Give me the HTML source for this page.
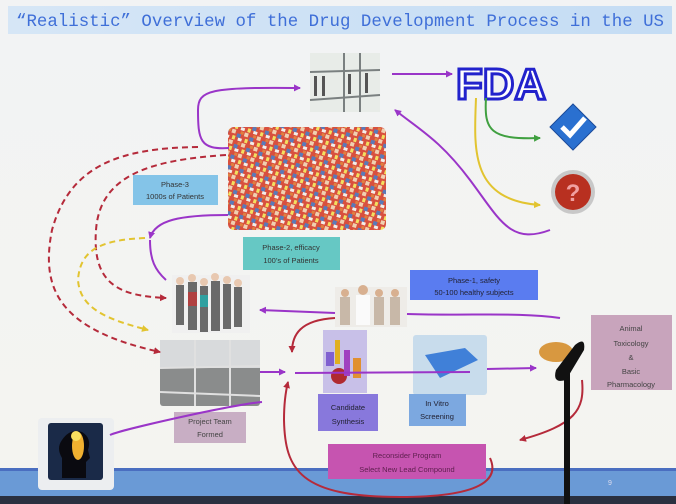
<!DOCTYPE html>
<html><head><meta charset="utf-8"><style>
html,body{margin:0;padding:0;width:676px;height:504px;overflow:hidden;background:#f3f3f1;}
svg{display:block}
.s{font-family:"Liberation Sans",sans-serif;}
.m{font-family:"Liberation Mono",monospace;}
</style></head><body>
<svg width="676" height="504" viewBox="0 0 676 504" xmlns="http://www.w3.org/2000/svg">
<defs>
<linearGradient id="bg" x1="0" y1="0" x2="0" y2="1"><stop offset="0" stop-color="#f2f3f4"/><stop offset="1" stop-color="#f4f4f0"/></linearGradient>
<linearGradient id="tb" x1="0" y1="0" x2="1" y2="0"><stop offset="0" stop-color="#d6e6f6"/><stop offset="1" stop-color="#c4dcf4"/></linearGradient>
<marker id="ap" markerWidth="8" markerHeight="8" refX="6" refY="4" orient="auto" markerUnits="userSpaceOnUse"><path d="M0,0.5 L7,4 L0,7.5z" fill="#9a35c8"/></marker>
<marker id="ar" markerWidth="8" markerHeight="8" refX="6" refY="4" orient="auto" markerUnits="userSpaceOnUse"><path d="M0,0.5 L7,4 L0,7.5z" fill="#b52a3a"/></marker>
<marker id="ay" markerWidth="8" markerHeight="8" refX="6" refY="4" orient="auto" markerUnits="userSpaceOnUse"><path d="M0,0.5 L7,4 L0,7.5z" fill="#e2c430"/></marker>
<marker id="ag" markerWidth="8" markerHeight="8" refX="6" refY="4" orient="auto" markerUnits="userSpaceOnUse"><path d="M0,0.5 L7,4 L0,7.5z" fill="#40a040"/></marker>
<pattern id="crowd" width="13" height="11" patternUnits="userSpaceOnUse" patternTransform="rotate(17)">
<rect width="13" height="11" fill="#d8503e"/><rect x="0" y="0" width="4" height="4" fill="#f0d0b0"/><rect x="6" y="3" width="4" height="4" fill="#5a7ab8"/><rect x="2" y="6" width="3" height="4" fill="#f2e060"/><rect x="8" y="7" width="4" height="3" fill="#f4eee8"/><rect x="9" y="0" width="3" height="3" fill="#e08040"/></pattern>
</defs>
<rect width="676" height="504" fill="url(#bg)"/>
<rect x="0" y="468" width="676" height="30" fill="#6a9ad6"/>
<rect x="0" y="468" width="676" height="3" fill="#4a6ec0"/>
<rect x="0" y="496" width="676" height="8" fill="#2a3040"/>
<text class="s" x="608" y="485" font-size="7" fill="#dde">9</text>
<rect x="8" y="6" width="664" height="28" fill="url(#tb)"/>
<text class="m" x="16" y="26" font-size="17.2" fill="#3f6fd8" textLength="648" lengthAdjust="spacingAndGlyphs">“Realistic” Overview of the Drug Development Process in the US</text>

<rect x="310" y="53" width="70" height="59" fill="#e8ece8"/>
<g stroke="#7a8080" stroke-width="2"><line x1="310" y1="72" x2="380" y2="70"/><line x1="310" y1="100" x2="380" y2="95"/><line x1="344" y1="53" x2="344" y2="112"/><line x1="360" y1="53" x2="360" y2="112"/></g>
<g fill="#555"><rect x="314" y="76" width="3" height="20"/><rect x="322" y="76" width="3" height="20"/><rect x="348" y="74" width="3" height="20"/><rect x="365" y="73" width="3" height="20"/></g>
<text class="s" x="456" y="99" font-size="44" font-weight="bold" fill="#fff" stroke="#2222cc" stroke-width="3" textLength="90" lengthAdjust="spacingAndGlyphs">FDA</text>
<path d="M573,104 L596,127 L573,150 L550,127z" fill="#2a70d0" stroke="#1a4a9a"/>
<path d="M562,127 L570,135 L585,118" stroke="#fff" stroke-width="5" fill="none"/>
<circle cx="573" cy="192" r="22" fill="#c8c8c8"/>
<circle cx="573" cy="192" r="18" fill="#b83020"/>
<text class="s" x="573" y="201" text-anchor="middle" font-size="24" font-weight="bold" fill="#f0a0a0">?</text>

<rect x="228" y="127" width="158" height="103" rx="6" fill="url(#crowd)"/>
<g>
<rect x="172" y="275" width="78" height="58" fill="#f0f0f0"/>
<g fill="#6a6a6a"><rect x="176" y="285" width="8" height="40"/><rect x="188" y="282" width="9" height="48"/><rect x="200" y="286" width="8" height="46"/><rect x="211" y="281" width="9" height="50"/><rect x="223" y="284" width="8" height="45"/><rect x="234" y="287" width="8" height="40"/></g>
<rect x="188" y="292" width="9" height="14" fill="#b04040"/><rect x="200" y="295" width="8" height="12" fill="#30a0a0"/>
<g fill="#e8c8b0"><circle cx="180" cy="281" r="4"/><circle cx="192" cy="278" r="4"/><circle cx="204" cy="282" r="4"/><circle cx="215" cy="277" r="4"/><circle cx="227" cy="280" r="4"/><circle cx="238" cy="283" r="4"/></g>
</g>
<rect x="335" y="287" width="72" height="40" fill="#eeece8"/>
<g fill="#c8b8a8"><rect x="340" y="297" width="10" height="28"/><rect x="356" y="295" width="14" height="30" fill="#fafafa"/><rect x="374" y="297" width="10" height="28"/><rect x="390" y="297" width="10" height="28"/></g>
<g fill="#d8b090"><circle cx="345" cy="293" r="4"/><circle cx="363" cy="290" r="5"/><circle cx="379" cy="293" r="4"/><circle cx="395" cy="293" r="4"/></g>
<rect x="160" y="340" width="100" height="66" rx="3" fill="#8a8c8c"/>
<rect x="160" y="340" width="100" height="28" fill="#d8dadc"/>
<g stroke="#e0e0e0" stroke-width="2"><line x1="160" y1="368" x2="260" y2="366"/><line x1="160" y1="392" x2="260" y2="396"/><line x1="195" y1="340" x2="195" y2="406"/><line x1="230" y1="340" x2="230" y2="406"/></g>
<rect x="323" y="330" width="44" height="63" fill="#c8c0e8"/>
<circle cx="339" cy="376" r="8" fill="#b02a30"/><rect x="335" y="340" width="5" height="24" fill="#e0b020"/><rect x="344" y="350" width="6" height="26" fill="#a040c0"/><rect x="353" y="358" width="8" height="20" fill="#e09030"/><rect x="326" y="352" width="8" height="14" fill="#8060d0"/>
<rect x="413" y="335" width="74" height="60" rx="3" fill="#c8dcec"/>
<path d="M425,355 L465,348 L478,360 L440,378z" fill="#4080d8"/>
<rect x="38" y="418" width="76" height="72" rx="4" fill="#eceef0"/>
<rect x="48" y="423" width="55" height="57" rx="3" fill="#1a2a48"/>
<path d="M62,478 L62,458 Q56,448 62,440 Q70,428 82,432 Q92,438 88,450 L90,458 L86,462 L86,478z" fill="#0a0a10"/>
<ellipse cx="78" cy="446" rx="6" ry="14" fill="#f0b030"/><circle cx="76" cy="436" r="5" fill="#f8e060"/>

<g stroke-dasharray="6,4" stroke-width="2" fill="none">
<path d="M198,147 C120,148 70,165 52,230 C40,290 60,330 160,352" stroke="#b52a3a" marker-end="url(#ar)"/>
<path d="M226,155 C150,160 100,175 96,230 C92,285 120,296 166,298" stroke="#b52a3a" marker-end="url(#ar)"/>
<path d="M145,238 C100,240 80,250 78,280 C80,310 110,320 148,330" stroke="#e2c430" marker-end="url(#ay)"/>
</g>

<g class="s" font-size="7.5" text-anchor="middle">
<rect x="133" y="175" width="85" height="30" fill="#84c4e8"/><text x="175" y="187" fill="#333">Phase-3</text><text x="175" y="199" fill="#333">1000s of Patients</text>
<rect x="243" y="237" width="97" height="33" fill="#66c8c4"/><text x="291" y="250" fill="#333">Phase-2, efficacy</text><text x="291" y="263" fill="#333">100’s of Patients</text>
<rect x="410" y="270" width="128" height="30" fill="#5a7cf0"/><text x="474" y="283" fill="#223">Phase-1, safety</text><text x="474" y="295" fill="#223">50-100 healthy subjects</text>
<rect x="174" y="412" width="72" height="31" fill="#c8aec4"/><text x="210" y="424" fill="#444">Project Team</text><text x="210" y="437" fill="#444">Formed</text>
<rect x="318" y="394" width="60" height="37" fill="#8878dc"/><text x="348" y="410" fill="#223">Candidate</text><text x="348" y="424" fill="#223">Synthesis</text>
<rect x="409" y="394" width="57" height="32" fill="#7ca8e0"/><text x="437" y="406" fill="#223">In Vitro</text><text x="437" y="419" fill="#223">Screening</text>
<rect x="591" y="315" width="81" height="75" fill="#c8a4bc"/><text x="631" y="331" fill="#444">Animal</text><text x="631" y="346" fill="#444">Toxicology</text><text x="631" y="360" fill="#444">&amp;</text><text x="631" y="374" fill="#444">Basic</text><text x="631" y="387" fill="#444">Pharmacology</text>
<rect x="328" y="444" width="158" height="35" fill="#c654b0"/><text x="407" y="458" fill="#602050">Reconsider Program</text><text x="407" y="472" fill="#602050">Select New Lead Compound</text>
</g>

<g stroke="#9a35c8" stroke-width="2" fill="none">
<path d="M229,148 C200,150 198,140 198,110 C198,90 210,87 300,88" marker-end="url(#ap)"/>
<path d="M392,74 L452,74" marker-end="url(#ap)"/>
<path d="M550,230 C510,245 500,220 470,180 C440,140 420,130 395,110" marker-end="url(#ap)"/>
<path d="M228,215 C180,215 155,220 150,238" marker-end="url(#ap)"/>
<path d="M166,280 C155,270 150,260 150,240"/>
<path d="M335,313 L260,310" marker-end="url(#ap)"/>
<path d="M407,314 C470,316 520,312 560,318"/>
<path d="M262,402 C230,405 120,430 110,435"/>
<path d="M260,372 L285,372" marker-end="url(#ap)"/>
<path d="M295,373 L470,372"/>
<path d="M487,369 L536,368" marker-end="url(#ap)"/>
</g>
<path d="M486,98 C484,130 490,140 540,138" stroke="#40a040" stroke-width="2" fill="none" marker-end="url(#ag)"/>
<path d="M476,98 C474,150 470,200 540,205" stroke="#e2c430" stroke-width="2" fill="none" marker-end="url(#ay)"/>
<g stroke="#b52a3a" stroke-width="2" fill="none">
<path d="M335,318 C300,320 292,335 292,352" marker-end="url(#ar)"/>
<path d="M490,458 C500,480 480,497 400,497 C300,497 285,470 284,420 C284,400 286,390 288,382" marker-end="url(#ar)"/>
<path d="M582,380 C585,410 575,425 520,440" marker-end="url(#ar)"/>
</g>
<ellipse cx="556" cy="352" rx="17" ry="10" fill="#d89840"/>
<rect x="564" y="365" width="6" height="139" fill="#111"/>
<path d="M556,370 L575,345 Q586,336 584,350 L566,380 Q552,384 556,370z" fill="#111"/>
</svg>
</body></html>
